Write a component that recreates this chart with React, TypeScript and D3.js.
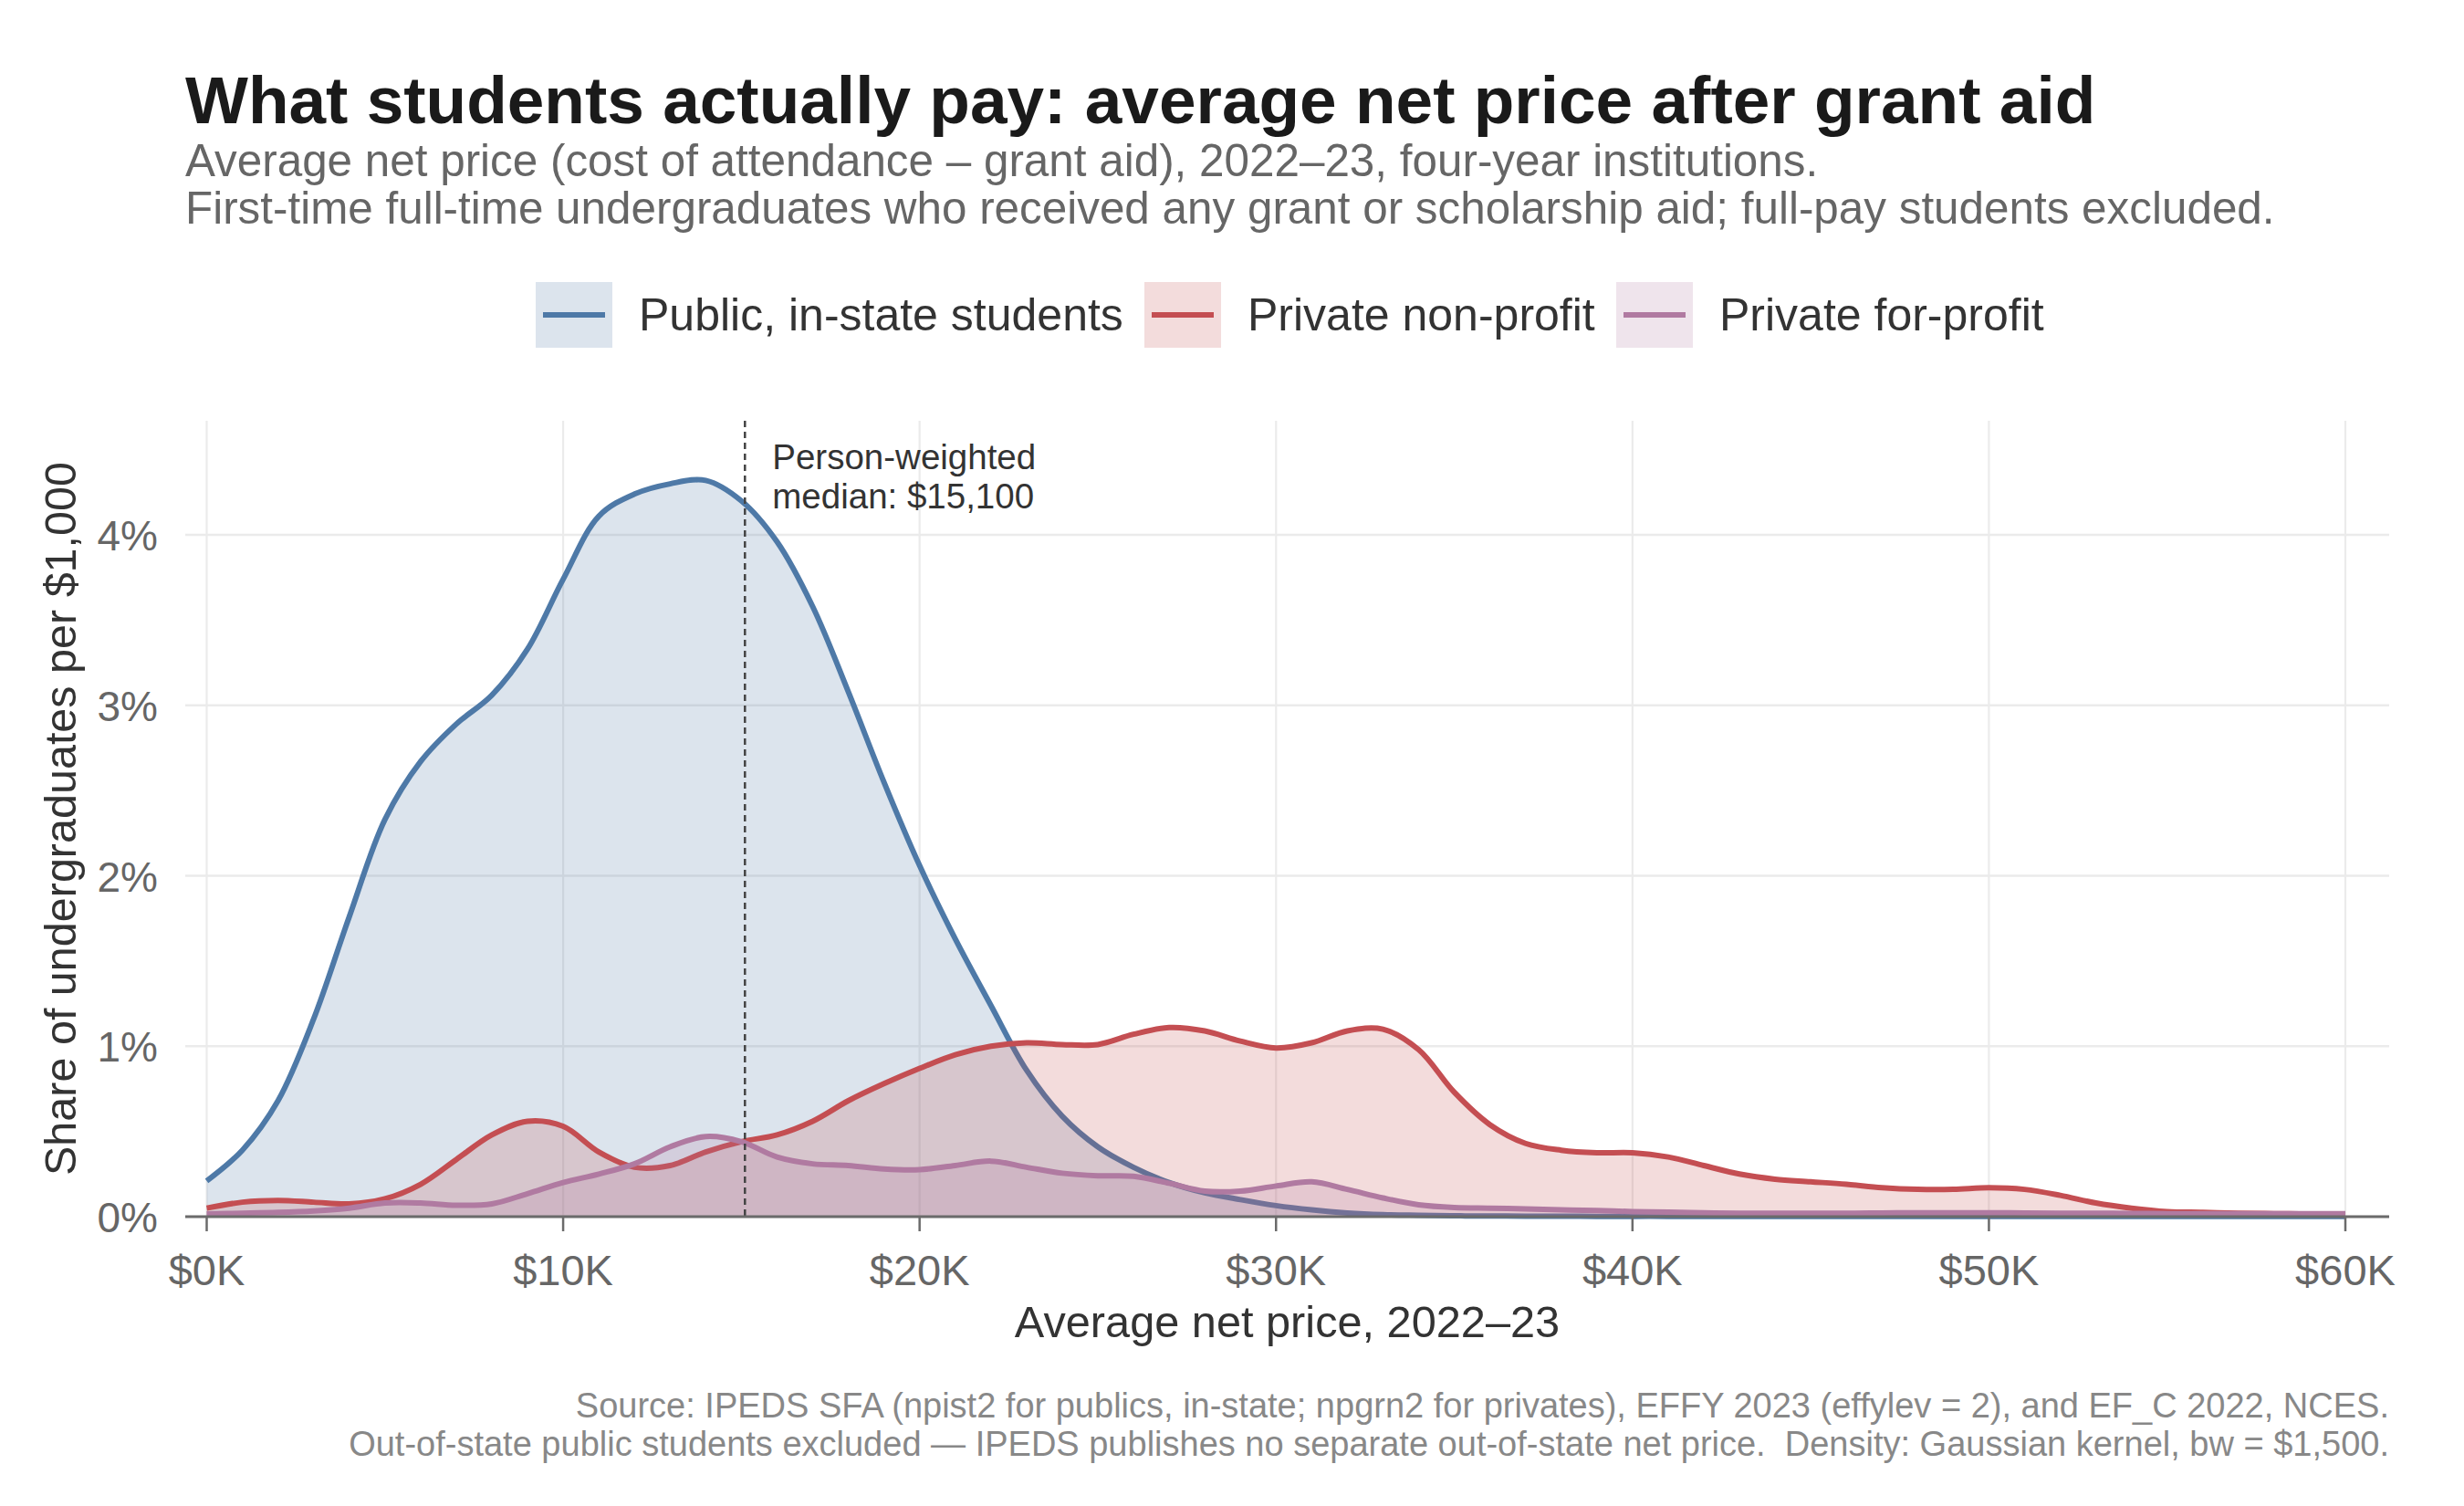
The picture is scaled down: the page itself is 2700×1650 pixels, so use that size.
import * as d3 from "d3";

// chart canvas (matches the reference pixel size)
const W = 2700;
const H = 1650;
const PANEL = { left: 203, right: 2618, top: 461, bottom: 1333 };
const FONT = "'Liberation Sans', Arial, Helvetica, sans-serif";

// KDE grid, net price in $K
const netPriceK = [
  0, 1, 2, 3, 4, 5, 6, 7, 8, 9, 10, 11, 12, 13, 14, 15, 16, 17, 18, 19, 20,
  21, 22, 23, 24, 25, 26, 27, 28, 29, 30, 31, 32, 33, 34, 35, 36, 37, 38, 39, 40,
  41, 42, 43, 44, 45, 46, 47, 48, 49, 50, 51, 52, 53, 54, 55, 56, 57, 58, 59, 60,
];

// share of undergraduates per $1,000 (percent)
const publicInState = [
  0.21, 0.39, 0.68, 1.16, 1.76, 2.33, 2.67, 2.89, 3.06, 3.33, 3.74,
  4.11, 4.24, 4.3, 4.32, 4.2, 3.96, 3.58, 3.08, 2.55, 2.06,
  1.63, 1.24, 0.86, 0.59, 0.41, 0.29, 0.2, 0.14, 0.1, 0.065,
  0.04, 0.022, 0.012, 0.008, 0.005, 0.004, 0.003, 0.003, 0.002, 0.002,
  0.002, 0.001, 0.001, 0.001, 0.001, 0.001, 0.001, 0.001, 0.001, 0.001,
  0.001, 0.001, 0.001, 0.001, 0.001, 0.001, 0.001, 0.001, 0.001, 0.001,
];

const privateNonProfit = [
  0.05, 0.085, 0.095, 0.085, 0.075, 0.105, 0.19, 0.335, 0.48, 0.56, 0.53,
  0.38, 0.29, 0.3, 0.38, 0.44, 0.48, 0.56, 0.68, 0.78, 0.87,
  0.95, 1.0, 1.02, 1.01, 1.01, 1.07, 1.11, 1.09, 1.03, 0.99,
  1.02, 1.09, 1.1, 0.98, 0.73, 0.54, 0.43, 0.39, 0.375, 0.375,
  0.35, 0.3, 0.25, 0.22, 0.205, 0.19, 0.17, 0.16, 0.16, 0.17,
  0.16, 0.125, 0.08, 0.05, 0.03, 0.025, 0.02, 0.018, 0.015, 0.01,
];

const privateForProfit = [
  0.016, 0.02, 0.025, 0.034, 0.05, 0.08, 0.08, 0.067, 0.075, 0.135, 0.2,
  0.25, 0.31, 0.41, 0.47, 0.44, 0.35, 0.31, 0.3, 0.28, 0.276,
  0.3, 0.326, 0.29, 0.255, 0.24, 0.237, 0.196, 0.15, 0.15, 0.18,
  0.205, 0.16, 0.11, 0.07, 0.054, 0.05, 0.046, 0.04, 0.036, 0.03,
  0.027, 0.023, 0.02, 0.02, 0.02, 0.02, 0.022, 0.023, 0.023, 0.023,
  0.022, 0.02, 0.02, 0.019, 0.018, 0.018, 0.018, 0.018, 0.018, 0.018,
];

const seriesNames = ["Public, in-state students", "Private non-profit", "Private for-profit"];
const seriesColors = ["#4E79A7", "#C44E52", "#B07AA1"];
const seriesValues = [publicInState, privateNonProfit, privateForProfit];

const xTickValues = [0, 10, 20, 30, 40, 50, 60];
const xTickLabels = ["$0K", "$10K", "$20K", "$30K", "$40K", "$50K", "$60K"];
const yTickValues = [0, 1, 2, 3, 4];
const yTickLabels = ["0%", "1%", "2%", "3%", "4%"];

const medianK = 15.1;

// legend key x positions (layout)
const legendKeyX = [587, 1254, 1771];

export default function App() {
  const xScale = d3.scaleLinear().domain([0, 60]).range([226.5, 2570]);
  const yScale = d3.scaleLinear().domain([0, 4.67]).range([PANEL.bottom, PANEL.top]);

  // smooth like the KDE output, without overshooting much
  const curve = d3.curveCatmullRom.alpha(0.5);

  const area = d3
    .area<number>()
    .x((_, i) => xScale(netPriceK[i]))
    .y0(yScale(0))
    .y1((d) => yScale(d))
    .curve(curve);

  const line = d3
    .line<number>()
    .x((_, i) => xScale(netPriceK[i]))
    .y((d) => yScale(d))
    .curve(curve);

  return (
    <div style={{ position: "absolute", left: 0, top: 0 }}>
      <svg width={W} height={H} style={{ display: "block", background: "#fff" }} fontFamily={FONT}>
        {/* titles */}
        <text x={203} y={135} fontSize={73} fontWeight="bold" fill="#1a1a1a">
          What students actually pay: average net price after grant aid
        </text>
        <text x={203} y={193} fontSize={49.4} fill="#666">
          Average net price (cost of attendance – grant aid), 2022–23, four-year institutions.
        </text>
        <text x={203} y={245} fontSize={49.4} fill="#666">
          First-time full-time undergraduates who received any grant or scholarship aid; full-pay students excluded.
        </text>

        {/* legend */}
        {seriesNames.map((name, i) => (
          <g key={name}>
            <rect x={legendKeyX[i]} y={309} width={84} height={72} fill={seriesColors[i]} fillOpacity={0.2} />
            <line
              x1={legendKeyX[i] + 8}
              x2={legendKeyX[i] + 76}
              y1={345}
              y2={345}
              stroke={seriesColors[i]}
              strokeWidth={6}
            />
            <text x={legendKeyX[i] + 113} y={362} fontSize={50} fill="#333">
              {name}
            </text>
          </g>
        ))}

        {/* grid */}
        {yTickValues.map((v) => (
          <line
            key={"gy" + v}
            x1={PANEL.left}
            x2={PANEL.right}
            y1={yScale(v)}
            y2={yScale(v)}
            stroke="#ebebeb"
            strokeWidth={2.5}
          />
        ))}
        {xTickValues.map((v) => (
          <line
            key={"gx" + v}
            x1={xScale(v)}
            x2={xScale(v)}
            y1={PANEL.top}
            y2={PANEL.bottom}
            stroke="#ebebeb"
            strokeWidth={2.2}
          />
        ))}

        {/* densities */}
        {seriesValues.map((vals, i) => (
          <g key={seriesNames[i]}>
            <path d={area(vals) || ""} fill={seriesColors[i]} fillOpacity={0.2} />
            <path d={line(vals) || ""} fill="none" stroke={seriesColors[i]} strokeWidth={6} strokeLinejoin="round" />
          </g>
        ))}

        {/* median */}
        <line
          x1={xScale(medianK)}
          x2={xScale(medianK)}
          y1={PANEL.top}
          y2={PANEL.bottom}
          stroke="#444"
          strokeWidth={2.5}
          strokeDasharray="7 5"
        />
        <text x={xScale(medianK) + 30} y={514} fontSize={38.5} fill="#333">
          Person-weighted
        </text>
        <text x={xScale(medianK) + 30} y={557} fontSize={38.5} fill="#333">
          median: $15,100
        </text>

        {/* x axis */}
        <line x1={PANEL.left} x2={PANEL.right} y1={PANEL.bottom} y2={PANEL.bottom} stroke="#6b6b6b" strokeWidth={3} />
        {xTickValues.map((v, i) => (
          <g key={"xt" + v}>
            <line x1={xScale(v)} x2={xScale(v)} y1={PANEL.bottom} y2={PANEL.bottom + 16} stroke="#6b6b6b" strokeWidth={2.5} />
            <text x={xScale(v)} y={1408} fontSize={47} fill="#666" textAnchor="middle">
              {xTickLabels[i]}
            </text>
          </g>
        ))}
        {yTickValues.map((v, i) => (
          <text key={"yt" + v} x={173} y={yScale(v) + 17} fontSize={46} fill="#666" textAnchor="end">
            {yTickLabels[i]}
          </text>
        ))}

        {/* axis titles */}
        <text x={(PANEL.left + PANEL.right) / 2} y={1465} fontSize={48.7} fill="#333" textAnchor="middle">
          Average net price, 2022–23
        </text>
        <text
          transform={`translate(83, ${(PANEL.top + PANEL.bottom) / 2}) rotate(-90)`}
          fontSize={48.5}
          fill="#333"
          textAnchor="middle"
        >
          Share of undergraduates per $1,000
        </text>

        {/* caption */}
        <text x={PANEL.right} y={1553} fontSize={38} fill="#888" textAnchor="end">
          Source: IPEDS SFA (npist2 for publics, in-state; npgrn2 for privates), EFFY 2023 (effylev = 2), and EF_C 2022, NCES.
        </text>
        <text x={PANEL.right} y={1595} fontSize={38} fill="#888" textAnchor="end" style={{ whiteSpace: "pre" }}>
          {"Out-of-state public students excluded — IPEDS publishes no separate out-of-state net price.  Density: Gaussian kernel, bw = $1,500."}
        </text>
      </svg>
    </div>
  );
}
